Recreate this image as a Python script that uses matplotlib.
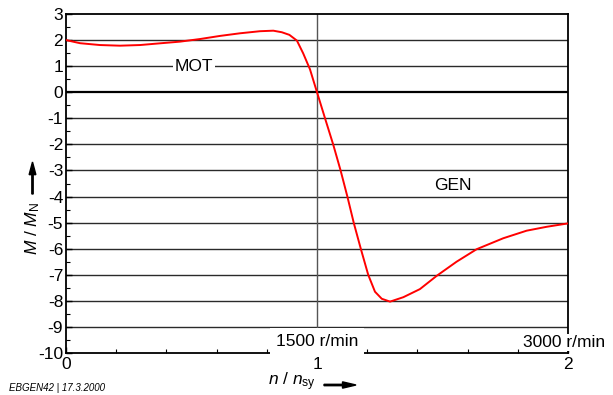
import matplotlib
matplotlib.use("Agg")
import matplotlib.pyplot as plt
from matplotlib.patches import FancyArrow
from matplotlib.ticker import MultipleLocator

plt.rcParams['font.family'] = ['Liberation Sans', 'DejaVu Sans']
plt.rcParams['mathtext.fontset'] = 'custom'
plt.rcParams['mathtext.it'] = 'Liberation Sans:italic'
plt.rcParams['mathtext.rm'] = 'Liberation Sans'
plt.rcParams['axes.unicode_minus'] = False

# torque-speed characteristic: speed ratio n/n_sy vs torque ratio M/M_N
speed_ratio = [0.0, 0.056, 0.135, 0.215, 0.295, 0.375, 0.454, 0.534, 0.614, 0.693,
               0.773, 0.826, 0.86, 0.89, 0.92, 0.945, 0.972, 1.0, 1.032, 1.065,
               1.094, 1.121, 1.147, 1.175, 1.204, 1.231, 1.258, 1.291, 1.344, 1.41,
               1.477, 1.556, 1.636, 1.742, 1.835, 1.915, 2.0]
torque_ratio = [2.00, 1.88, 1.81, 1.785, 1.81, 1.876, 1.94, 2.04, 2.16, 2.26,
                2.34, 2.36, 2.30, 2.20, 1.98, 1.49, 0.88, 0.0, -1.0, -2.02,
                -3.0, -4.0, -5.03, -6.02, -7.0, -7.65, -7.92, -8.03, -7.86, -7.55,
                -7.04, -6.50, -6.02, -5.60, -5.31, -5.16, -5.03]

x_ticks = [0, 1, 2]
y_ticks = list(range(-10, 4))

fig = plt.figure(figsize=(6.13, 3.95), dpi=100)
ax = fig.add_axes([66 / 613, 1 - 353 / 395, (568 - 66) / 613, (353 - 14) / 395])

ax.set_xlim(0, 2)
ax.set_ylim(-10, 3)

for y in y_ticks:
    if -10 < y < 3:
        ax.axhline(y, color='black' if y == 0 else '#2a2a2a',
                   lw=1.6 if y == 0 else 1.0, zorder=1)
ax.axvline(1, color='#555555', lw=1.0, zorder=1)

ax.plot(speed_ratio, torque_ratio, color='#ff0000', lw=1.4, zorder=3,
        solid_joinstyle='round')

ax.set_xticks(x_ticks)
ax.set_yticks(y_ticks)
ax.xaxis.set_minor_locator(MultipleLocator(0.2))
ax.yaxis.set_minor_locator(MultipleLocator(0.5))
ax.tick_params(which='both', direction='in', top=False, right=False, labelsize=12.5)
ax.tick_params(which='major', length=4, width=1)
ax.tick_params(which='minor', length=3, width=0.8)
ax.tick_params(axis='x', pad=3)
ax.tick_params(axis='y', pad=2)
for s in ax.spines.values():
    s.set_linewidth(1.3)
    s.set_color('black')

white = dict(facecolor='white', edgecolor='none', pad=1.5)
ax.text(0.51, 1.0, 'MOT', ha='center', va='center', fontsize=12.5, bbox=white, zorder=4)
ax.text(1.54, -3.56, 'GEN', ha='center', va='center', fontsize=12.5, zorder=4)
ax.text(1.0, -9.55, '1500 r/min', ha='center', va='center', fontsize=12.5,
        bbox=dict(facecolor='white', edgecolor='none', pad=4), zorder=4)
ax.text(1.985, -9.6, '3000 r/min', ha='center', va='center', fontsize=12.5,
        bbox=dict(facecolor='white', edgecolor='none', pad=1), zorder=6, clip_on=False)

fig.text(33 / 613, 1 - 228 / 395, r'$M$ / $M_\mathrm{N}$', rotation=90,
         ha='center', va='center', fontsize=12.5)
fig.text(292 / 613, 1 - 382 / 395, r'$n$ / $n_\mathrm{sy}$',
         ha='center', va='center', fontsize=12.5)

fig.patches.append(FancyArrow(
    32.5 / 613, 1 - 194 / 395, 0, 32 / 395, width=0.0022, head_width=0.011,
    head_length=0.032, length_includes_head=True, color='black',
    transform=fig.transFigure, figure=fig))
fig.patches.append(FancyArrow(
    324 / 613, 1 - 385 / 395, 32 / 613, 0, width=0.0035, head_width=0.016,
    head_length=0.022, length_includes_head=True, color='black',
    transform=fig.transFigure, figure=fig))

fig.text(9 / 613, 1 - 388 / 395, 'EBGEN42 | 17.3.2000', ha='left', va='center',
         fontsize=7, style='italic')

fig.savefig('out.png', dpi=100)
